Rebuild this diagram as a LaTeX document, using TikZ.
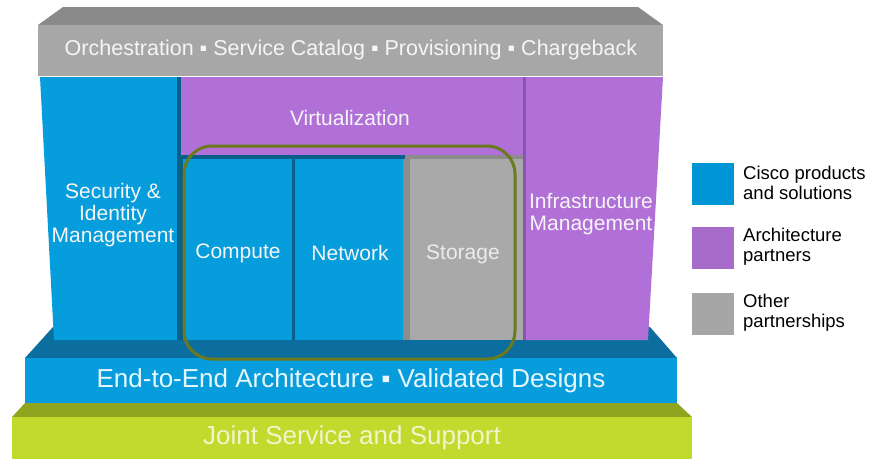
\documentclass[tikz,border=0pt]{standalone}
\usepackage{fontspec}
\setmainfont{Liberation Sans}
\definecolor{ciscoblue}{HTML}{069DDC}
\definecolor{bluegap}{HTML}{08608A}
\definecolor{bluetop}{HTML}{0B6E9E}
\definecolor{bluefront}{HTML}{079CDC}
\definecolor{archpurple}{HTML}{B070D8}
\definecolor{purplegap}{HTML}{8A55AE}
\definecolor{othergray}{HTML}{A9A9A9}
\definecolor{graygap}{HTML}{8C8C8C}
\definecolor{graytop}{HTML}{8A8A8A}
\definecolor{grayfront}{HTML}{A7A7A7}
\definecolor{greentop}{HTML}{8FA41F}
\definecolor{greenfront}{HTML}{C2D92E}
\definecolor{outlinegreen}{HTML}{6B7A1C}
\definecolor{legblue}{HTML}{0096D6}
\definecolor{legpurple}{HTML}{A76BC9}
\definecolor{leggray}{HTML}{A6A6A6}
\begin{document}
\begin{tikzpicture}[x=1pt,y=-1pt,
  lbl/.style={inner sep=0pt,align=center,text=white!92!gray,font=\fontsize{21}{22}\selectfont},
  biglbl/.style={inner sep=0pt,align=center,font=\fontsize{26}{28}\selectfont},
  legbox/.style={inner sep=0pt,minimum width=42pt,minimum height=42pt,draw=none},
  legtext/.style={inner sep=0pt,align=left,anchor=west,font=\fontsize{18.5}{20}\selectfont,text=black}]
\useasboundingbox (0,0) rectangle (873,459);
\fill[white] (0,0) rectangle (873,459);
% green base slab
\fill[greentop] (25,403) -- (677,403) -- (692,417) -- (12,417) -- cycle;
\fill[greenfront] (12,417) rectangle (692,459);
% blue slab
\fill[bluetop] (53,327) -- (650,327) -- (677,358) -- (25,358) -- cycle;
\fill[bluefront] (25,358) rectangle (677,403);
% columns
\fill[ciscoblue] (40,77) -- (177,77) -- (177,340) -- (54,340) -- cycle;
\fill[bluegap] (177,77) rectangle (183,340);
\fill[archpurple] (181,77) rectangle (523,155);
\fill[purplegap] (523,77) rectangle (526,340);
\fill[archpurple] (526,77) -- (663,77) -- (648,340) -- (526,340) -- cycle;
\fill[bluegap] (181,155) rectangle (405,159);
\fill[graygap] (405,155) rectangle (523,159);
\fill[ciscoblue] (183,159) rectangle (292,340);
\fill[bluegap] (292,159) rectangle (295,340);
\fill[ciscoblue] (295,159) rectangle (403,340);
\fill[graygap] (403,159) rectangle (410,340);
\fill[othergray] (410,159) rectangle (523,340);
% top slab
\fill[graytop] (63,7) -- (638,7) -- (663,25) -- (38,25) -- cycle;
\fill[grayfront] (38,25) rectangle (663,76);
% labels
\node[lbl,font=\fontsize{21.5}{23}\selectfont] (orch) at (351,50) {Orchestration ▪ Service Catalog ▪ Provisioning ▪ Chargeback};
\node[lbl] (sec) at (113,215) {Security \&\\Identity\\Management};
\node[lbl] (virt) at (350,118) {Virtualization};
\node[lbl] (comp) at (238,253) {Compute};
\node[lbl] (net) at (350,253) {Network};
\node[lbl,text=white!85!gray] (stor) at (463,254) {Storage};
\node[lbl] (infra) at (591,214) {Infrastructure\\Management};
\node[biglbl,text=white!90!cyan] (e2e) at (351,381) {End-to-End Architecture ▪ Validated Designs};
\node[biglbl,text=white!75!greenfront] (joint) at (352,438) {Joint Service and Support};
% highlighted outline
\node[draw=outlinegreen,line width=3pt,rounded corners=28pt,minimum width=331pt,minimum height=213pt,inner sep=0pt] (focus) at (349.5,252.5) {};
% legend
\node[legbox,fill=legblue] (lb1) at (713,184) {};
\node[legbox,fill=legpurple] (lb2) at (713,248) {};
\node[legbox,fill=leggray] (lb3) at (713,314) {};
\node[legtext] (lt1) at (743,183) {Cisco products\\and solutions};
\node[legtext] (lt2) at (743,247) {Architecture\\partners};
\node[legtext] (lt3) at (743,313) {Other\\partnerships};
\end{tikzpicture}
\end{document}
